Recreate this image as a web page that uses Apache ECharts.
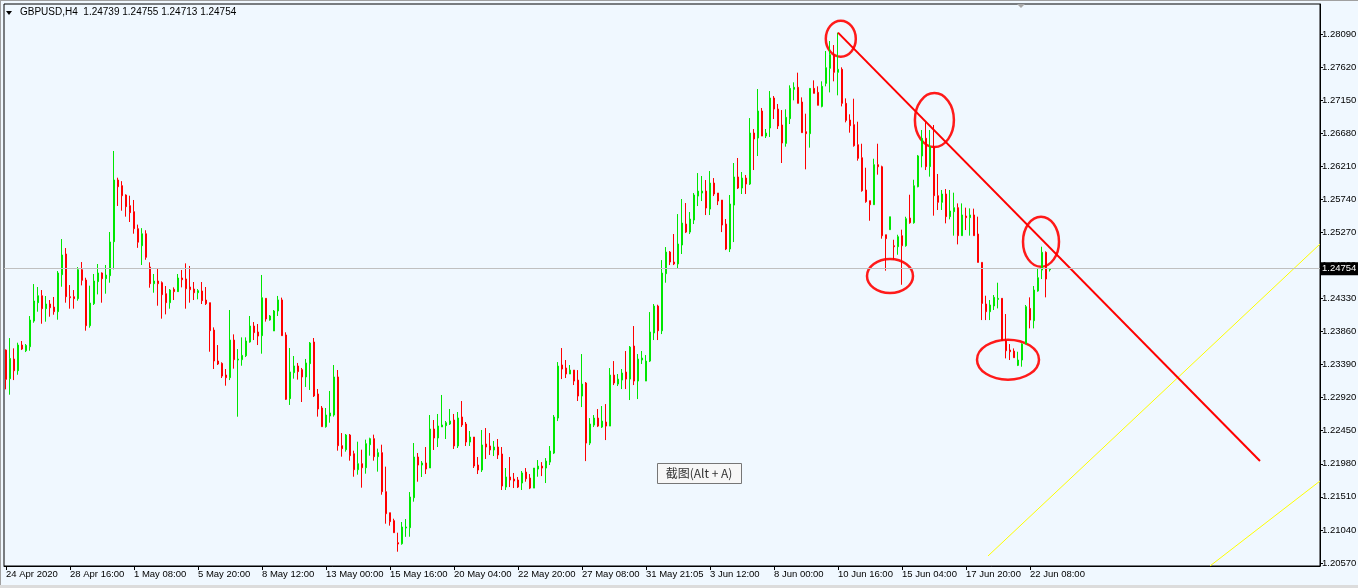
<!DOCTYPE html>
<html><head><meta charset="utf-8">
<script src="https://cdn.jsdelivr.net/npm/echarts@6/dist/echarts.min.js"></script>
<style>
html,body{margin:0;padding:0;background:#f0f8ff;}
#wrap{position:relative;width:1358px;height:588px;overflow:hidden;background:#f0f8ff;}
#chart{position:absolute;left:0;top:0;width:1358px;height:588px;}
.edge{position:absolute;background:#a0a0a0;}
</style></head><body>
<div id="wrap">
<div id="chart"></div>
<div class="edge" style="left:0;top:0;width:1358px;height:1px;"></div>
<div class="edge" style="left:0;top:0;width:1px;height:588px;"></div>
<div class="edge" style="left:0;top:585px;width:1358px;height:3px;background:#dcdcdc;"></div>
</div>
<script>
const symbolTitle = 'GBPUSD,H4';
const tickLabels = ['24 Apr 2020','28 Apr 16:00','1 May 08:00','5 May 20:00','8 May 12:00','13 May 00:00','15 May 16:00','20 May 04:00','22 May 20:00','27 May 08:00','31 May 21:05','3 Jun 12:00','8 Jun 00:00','10 Jun 16:00','15 Jun 04:00','17 Jun 20:00','22 Jun 08:00'];
const barsPerTick = 16;
const slotCount = 329;
const priceTicks = [1.28090,1.27620,1.27150,1.26680,1.26210,1.25740,1.25270,1.24800,1.24330,1.23860,1.23390,1.22920,1.22450,1.21980,1.21510,1.21040,1.20570];
const priceMin = 1.205266, priceMax = 1.285165;
// [open, high, low, close]
const candles = [
[1.23597,1.23606,1.23038,1.23180],[1.23189,1.23767,1.22962,1.23478],[1.23469,1.23621,1.23170,1.23303],[1.23303,1.23701,1.23246,1.23668],
[1.23668,1.23725,1.23597,1.23611],[1.23587,1.23682,1.23568,1.23663],[1.23644,1.24080,1.23587,1.24023],[1.24009,1.24535,1.23985,1.24294],
[1.24270,1.24493,1.24142,1.24369],[1.24369,1.24450,1.23971,1.24185],[1.24185,1.24365,1.24000,1.24251],[1.24251,1.24308,1.24071,1.24199],
[1.24208,1.24351,1.24099,1.24142],[1.24142,1.24720,1.24028,1.24692],[1.24668,1.25175,1.24497,1.24948],[1.24962,1.25047,1.24270,1.24355],
[1.24355,1.24521,1.24185,1.24341],[1.24355,1.24450,1.24185,1.24327],[1.24327,1.24777,1.24298,1.24739],[1.24739,1.24848,1.24516,1.24588],
[1.24592,1.24625,1.23872,1.23943],[1.23943,1.24512,1.23914,1.24265],[1.24256,1.24678,1.24237,1.24578],[1.24569,1.24820,1.24388,1.24692],
[1.24692,1.24701,1.24270,1.24611],[1.24611,1.24806,1.24398,1.24663],[1.24654,1.25275,1.24554,1.25133],[1.25137,1.26427,1.24744,1.26014],
[1.26014,1.26047,1.25645,1.25919],[1.25934,1.25998,1.25578,1.25791],[1.25801,1.25810,1.25493,1.25635],[1.25649,1.25791,1.25417,1.25550],
[1.25564,1.25730,1.25251,1.25322],[1.25322,1.25380,1.25050,1.25130],[1.25080,1.25330,1.24806,1.25250],[1.25250,1.25300,1.24880,1.24915],
[1.24777,1.24844,1.24483,1.24540],[1.24540,1.24678,1.24412,1.24578],[1.24578,1.24749,1.24227,1.24540],[1.24555,1.24573,1.24043,1.24384],
[1.24398,1.24507,1.24104,1.24270],[1.24270,1.24464,1.24185,1.24450],[1.24460,1.24488,1.24308,1.24427],[1.24427,1.24678,1.24422,1.24621],
[1.24621,1.24735,1.24488,1.24597],[1.24607,1.24829,1.24185,1.24469],[1.24493,1.24792,1.24270,1.24455],[1.24464,1.24564,1.24308,1.24412],
[1.24412,1.24464,1.24318,1.24441],[1.24436,1.24564,1.24251,1.24299],[1.24308,1.24493,1.24237,1.24256],[1.24270,1.24270,1.23573,1.23872],
[1.23881,1.23919,1.23327,1.23441],[1.23441,1.23668,1.23384,1.23398],[1.23407,1.23422,1.23199,1.23227],[1.23242,1.23327,1.23090,1.23204],
[1.23204,1.24166,1.23170,1.23739],[1.23739,1.23820,1.23332,1.23460],[1.23455,1.23611,1.22649,1.23469],[1.23460,1.23777,1.23374,1.23521],
[1.23516,1.23777,1.23497,1.23725],[1.23711,1.24081,1.23701,1.23938],[1.23938,1.23995,1.23739,1.23844],[1.23853,1.23967,1.23668,1.23796],
[1.23801,1.24664,1.23545,1.24341],[1.24332,1.24332,1.24001,1.24038],[1.24024,1.24095,1.24015,1.24081],[1.23868,1.24166,1.23868,1.24152],
[1.24152,1.24366,1.24081,1.24309],[1.24309,1.24342,1.23801,1.23801],[1.23811,1.23849,1.22887,1.22896],[1.22906,1.23626,1.22816,1.23285],
[1.23275,1.23512,1.23190,1.23370],[1.23370,1.23413,1.23176,1.23290],[1.23318,1.23342,1.22858,1.23214],[1.23214,1.23470,1.23072,1.23413],
[1.23403,1.23711,1.23029,1.23697],[1.23711,1.23768,1.22929,1.22944],[1.22972,1.23043,1.22650,1.22759],[1.22773,1.22801,1.22507,1.22507],
[1.22507,1.22773,1.22493,1.22673],[1.22659,1.23015,1.22564,1.22702],[1.22673,1.23384,1.22650,1.23214],[1.23214,1.23313,1.22166,1.22237],
[1.22237,1.22417,1.22081,1.22195],[1.22180,1.22403,1.22152,1.22389],[1.22389,1.22403,1.22024,1.22095],[1.22123,1.22166,1.21796,1.21896],
[1.21896,1.22294,1.21825,1.21981],[1.21981,1.22180,1.21640,1.21924],[1.21924,1.22323,1.21839,1.22266],[1.22251,1.22351,1.22095,1.22337],
[1.22337,1.22394,1.22024,1.22081],[1.22081,1.22195,1.21868,1.22138],[1.22138,1.22251,1.21540,1.21583],[1.21583,1.21939,1.21128,1.21270],
[1.21284,1.21284,1.21100,1.21157],[1.21171,1.21199,1.21000,1.21000],[1.20858,1.21000,1.20730,1.20839],[1.20844,1.21152,1.20829,1.21081],
[1.21067,1.21194,1.20941,1.21081],[1.21071,1.21578,1.20943,1.21507],[1.21498,1.22275,1.21441,1.22076],[1.22076,1.22133,1.21725,1.21962],
[1.21962,1.22019,1.21792,1.21991],[1.21991,1.22218,1.21834,1.21905],[1.21920,1.22673,1.21920,1.22474],[1.22474,1.22602,1.22176,1.22346],
[1.22346,1.22688,1.22218,1.22517],[1.22503,1.22958,1.22503,1.22531],[1.22522,1.22588,1.22332,1.22564],[1.22545,1.22759,1.22531,1.22588],
[1.22602,1.22688,1.22190,1.22233],[1.22233,1.22716,1.22204,1.22631],[1.22645,1.22872,1.22503,1.22531],[1.22545,1.22574,1.22233,1.22289],
[1.22289,1.22446,1.22233,1.22360],[1.22360,1.22360,1.21920,1.21948],[1.21962,1.22076,1.21834,1.21891],[1.21891,1.22460,1.21863,1.22247],
[1.22261,1.22488,1.22048,1.22218],[1.22233,1.22417,1.22105,1.22176],[1.22176,1.22304,1.22090,1.22218],[1.22218,1.22332,1.22048,1.22105],
[1.22119,1.22218,1.21607,1.21664],[1.21649,1.21920,1.21607,1.21792],[1.21792,1.22076,1.21649,1.21749],[1.21763,1.21849,1.21635,1.21735],
[1.21749,1.21792,1.21635,1.21649],[1.21706,1.21877,1.21607,1.21849],[1.21862,1.21919,1.21725,1.21767],[1.21777,1.21834,1.21620,1.21634],
[1.21634,1.21919,1.21634,1.21919],[1.21905,1.22033,1.21796,1.21947],[1.21947,1.22004,1.21805,1.21919],[1.21919,1.22061,1.21706,1.22018],
[1.22004,1.22232,1.21962,1.22161],[1.22132,1.22673,1.22118,1.22644],[1.22630,1.23426,1.22587,1.23369],[1.23384,1.23625,1.23184,1.23327],
[1.23341,1.23455,1.23199,1.23256],[1.23256,1.23384,1.23256,1.23312],[1.23312,1.23312,1.23099,1.23156],[1.23170,1.23312,1.22872,1.22943],
[1.22943,1.23540,1.22786,1.23113],[1.23128,1.23142,1.22018,1.22274],[1.22274,1.22630,1.22246,1.22545],[1.22530,1.22673,1.22502,1.22630],
[1.22630,1.22758,1.22502,1.22516],[1.22502,1.22801,1.22488,1.22587],[1.22573,1.22829,1.22317,1.22516],[1.22516,1.23341,1.22516,1.23241],
[1.23241,1.23440,1.23099,1.23128],[1.23113,1.23256,1.23085,1.23184],[1.23170,1.23327,1.23042,1.23270],[1.23284,1.23583,1.23042,1.23184],
[1.23184,1.23654,1.22886,1.23639],[1.23654,1.23938,1.23099,1.23156],[1.23156,1.23540,1.22900,1.23469],[1.23455,1.23583,1.23398,1.23483],
[1.23156,1.23526,1.23156,1.23440],[1.23440,1.24137,1.23426,1.23853],[1.23839,1.24251,1.23739,1.24222],[1.24222,1.24241,1.23739,1.23871],
[1.23871,1.24876,1.23824,1.24691],[1.24682,1.25061,1.24554,1.24990],[1.24990,1.25004,1.24805,1.24848],[1.24848,1.25246,1.24805,1.24821],
[1.24821,1.25530,1.24762,1.25104],[1.25090,1.25744,1.24962,1.25402],[1.25388,1.25687,1.25260,1.25274],[1.25274,1.25559,1.25246,1.25459],
[1.25445,1.25829,1.25388,1.25801],[1.25786,1.26113,1.25644,1.25857],[1.25829,1.26071,1.25715,1.25857],[1.25857,1.26014,1.25516,1.25616],
[1.25601,1.26142,1.25516,1.25971],[1.25971,1.26042,1.25786,1.25815],[1.25829,1.25829,1.25658,1.25715],[1.25729,1.25729,1.25274,1.25374],
[1.25388,1.25459,1.25018,1.25033],[1.25033,1.25801,1.24990,1.25673],[1.25658,1.26256,1.25132,1.26057],[1.26057,1.26327,1.25886,1.25900],
[1.25900,1.26128,1.25815,1.26042],[1.26042,1.26085,1.25815,1.25957],[1.25957,1.26895,1.25943,1.26682],[1.26682,1.26739,1.26156,1.26597],
[1.26611,1.27308,1.26355,1.26995],[1.26995,1.27038,1.26639,1.26639],[1.26639,1.26739,1.26611,1.26682],[1.26753,1.27279,1.26625,1.27180],
[1.27180,1.27208,1.26881,1.27023],[1.27023,1.27095,1.26739,1.26782],[1.26796,1.27009,1.26256,1.26540],[1.26535,1.27019,1.26488,1.26905],
[1.26886,1.27360,1.26810,1.27317],[1.27303,1.27403,1.27147,1.27332],[1.27332,1.27540,1.27104,1.27104],[1.27123,1.27189,1.26687,1.26687],
[1.26701,1.26957,1.26166,1.26673],[1.26673,1.27317,1.26474,1.27317],[1.27317,1.27431,1.27246,1.27246],[1.27260,1.27346,1.27076,1.27076],
[1.27061,1.27417,1.27047,1.27346],[1.27388,1.27848,1.27346,1.27611],[1.27602,1.27990,1.27260,1.27796],[1.27796,1.27933,1.27417,1.27545],
[1.27545,1.28109,1.27218,1.27588],[1.27588,1.27616,1.27061,1.27104],[1.27104,1.27175,1.26834,1.26862],[1.26867,1.26948,1.26687,1.26786],
[1.26801,1.27170,1.26488,1.26502],[1.26516,1.26843,1.26289,1.26322],[1.26331,1.26530,1.25848,1.25862],[1.25872,1.26189,1.25691,1.25706],
[1.25720,1.25720,1.25435,1.25663],[1.25663,1.26317,1.25663,1.26232],[1.26232,1.26530,1.26090,1.26203],[1.26203,1.26218,1.25180,1.25222],
[1.25236,1.25236,1.24725,1.25180],[1.25308,1.25492,1.25308,1.25492],[1.25080,1.25165,1.24881,1.25066],[1.25066,1.25236,1.24952,1.25208],
[1.25222,1.25308,1.24525,1.25080],[1.25080,1.25492,1.25066,1.25464],[1.25473,1.25805,1.25393,1.25407],[1.25407,1.26018,1.25393,1.25933],
[1.25919,1.26370,1.25910,1.26356],[1.26356,1.26725,1.26194,1.26607],[1.26607,1.26844,1.26156,1.26204],[1.26204,1.26725,1.26062,1.26488],
[1.26488,1.26796,1.25507,1.25791],[1.25791,1.26100,1.25588,1.25697],[1.25697,1.25872,1.25588,1.25815],[1.25815,1.25886,1.25398,1.25493],
[1.25493,1.25872,1.25455,1.25573],[1.25564,1.25834,1.25223,1.25621],[1.25621,1.25682,1.25099,1.25223],[1.25223,1.25682,1.25223,1.25517],
[1.25502,1.25621,1.25303,1.25479],[1.25479,1.25611,1.25223,1.25517],[1.25517,1.25607,1.25223,1.25223],[1.25246,1.25493,1.24843,1.24843],
[1.24843,1.24843,1.24023,1.24260],[1.24251,1.24369,1.24023,1.24142],[1.24142,1.24308,1.24023,1.24237],[1.24223,1.24379,1.24166,1.24346],
[1.24317,1.24554,1.24189,1.24332],[1.24332,1.24332,1.23730,1.23730],[1.23730,1.24109,1.23478,1.23587],[1.23597,1.23682,1.23455,1.23573],
[1.23582,1.23620,1.23488,1.23488],[1.23379,1.23573,1.23369,1.23455],[1.23455,1.23692,1.23360,1.23682],[1.23682,1.24237,1.23682,1.24213],
[1.24189,1.24346,1.23905,1.24023],[1.24014,1.24507,1.23905,1.24450],[1.24436,1.24758,1.24426,1.24625],[1.24734,1.25066,1.24606,1.24986],
[1.24986,1.25000,1.24346,1.24606],[1.24739,1.24755,1.24713,1.24754]
];
// annotations: [bar index, price]
const trendLine = [[208, 1.28109], [313.5, 1.22020]];
const yellowLineA = [[245.5, 1.20669], [328.5, 1.25104]];
const yellowLineB = [[301, 1.20527], [328.5, 1.21735]];
const ellipseCenters = [[208.7, 1.28022], [232.1, 1.26867], [258.75, 1.25137], [221, 1.24650], [250.5, 1.23460]];
const ellipseRadii = [[15, 18], [19.5, 27], [18, 25], [23, 17], [31, 20]];
const screenshotHint = '截图(Alt + A)';

const FONT = 'Liberation Sans';
const slots = Array.from({length: slotCount}, (_, i) => String(i));
const showTick = i => i % barsPerTick === 0 && i / barsPerTick < tickLabels.length;
const last = candles[candles.length - 1];
const headerText = symbolTitle + '  ' + last.map(v => v.toFixed(5)).join(' ');

const chart = echarts.init(document.getElementById('chart'), null, {renderer: 'canvas'});
chart.setOption({
  animation: false,
  backgroundColor: '#f0f8ff',
  grid: {left: 4, top: 4, right: 38, bottom: 22, containLabel: false, outerBoundsMode: 'none',
    show: true, borderColor: '#000', borderWidth: 1, backgroundColor: 'transparent'},
  xAxis: [{
    type: 'category', data: slots, boundaryGap: true,
    axisLine: {show: true, onZero: false, lineStyle: {color: '#000', width: 1}},
    axisTick: {show: true, alignWithLabel: true, interval: showTick, length: 4, lineStyle: {color: '#000'}},
    axisLabel: {show: true, interval: showTick, align: 'left', margin: 3,
      color: '#000', fontSize: 9.5, fontFamily: FONT,
      formatter: (v, i) => showTick(i) ? tickLabels[i / barsPerTick] : ''},
    splitLine: {show: false}
  }, {
    type: 'value', min: -0.5, max: slotCount - 0.5, show: false,
    axisLine: {onZero: false}
  }],
  yAxis: {
    type: 'value', position: 'right', min: priceMin, max: priceMax,
    axisLine: {show: true, onZero: false, lineStyle: {color: '#000'}},
    axisTick: {show: true, customValues: priceTicks, length: 3, lineStyle: {color: '#000'}},
    axisLabel: {show: true, customValues: priceTicks, margin: 2, color: '#000', fontSize: 9.5, fontFamily: FONT,
      formatter: v => v.toFixed(5)},
    splitLine: {show: false}
  },
  series: [{
    type: 'candlestick', xAxisIndex: 0, silent: true, barWidth: 2,
    data: candles.map(c => [c[0], c[3], c[2], c[1]]),
    itemStyle: {color: '#00e600', color0: '#ff0000', borderColor: '#00e600', borderColor0: '#ff0000', borderWidth: 1},
    markLine: {
      silent: true, symbol: ['none', 'none'], animation: false, precision: 5,
      lineStyle: {color: '#c0c0c0', width: 1, type: 'solid'},
      label: {show: true, position: 'end', distance: 0, color: '#fff', backgroundColor: '#000',
        padding: [2, 2, 1, 2], fontSize: 9.5, fontFamily: FONT, formatter: p => Number(p.value).toFixed(5)},
      emphasis: {disabled: true},
      data: [{yAxis: last[3]}]
    }
  }, {
    type: 'line', xAxisIndex: 1, silent: true, symbol: 'none', data: yellowLineA,
    lineStyle: {color: '#ffff00', width: 1}
  }, {
    type: 'line', xAxisIndex: 1, silent: true, symbol: 'none', data: yellowLineB,
    lineStyle: {color: '#ffff00', width: 1}
  }, {
    type: 'line', xAxisIndex: 1, silent: true, symbol: 'none', data: trendLine,
    lineStyle: {color: '#ff0000', width: 2}
  }, {
    type: 'custom', xAxisIndex: 1, silent: true, clip: false, data: ellipseCenters,
    renderItem: (params, api) => {
      const p = api.coord([api.value(0), api.value(1)]);
      const r = ellipseRadii[params.dataIndex];
      return {type: 'ellipse', shape: {cx: p[0], cy: p[1], rx: r[0], ry: r[1]},
        style: {fill: 'none', stroke: '#ff1a1a', lineWidth: 2.5}};
    }
  }],
  graphic: [
    {type: 'polygon', shape: {points: [[6, 11], [12, 11], [9, 15]]}, style: {fill: '#000'}, silent: true},
    {type: 'text', left: 20, top: 7, style: {text: headerText, fill: '#000', font: '10px "' + FONT + '"'}, silent: true},
    {type: 'polygon', shape: {points: [[1017, 4], [1025, 4], [1021, 8]]}, style: {fill: '#a8a8a8'}, silent: true},
    {type: 'rect', shape: {x: 657.5, y: 463.5, width: 84, height: 20}, style: {fill: '#f7f7f7', stroke: '#767676', lineWidth: 1}, silent: true},
    {type: 'text', x: 699, y: 473.5, style: {text: screenshotHint, fill: '#333', font: '12px "Noto Sans CJK SC"', align: 'center', verticalAlign: 'middle'}, silent: true}
  ]
});
</script>
</body></html>
